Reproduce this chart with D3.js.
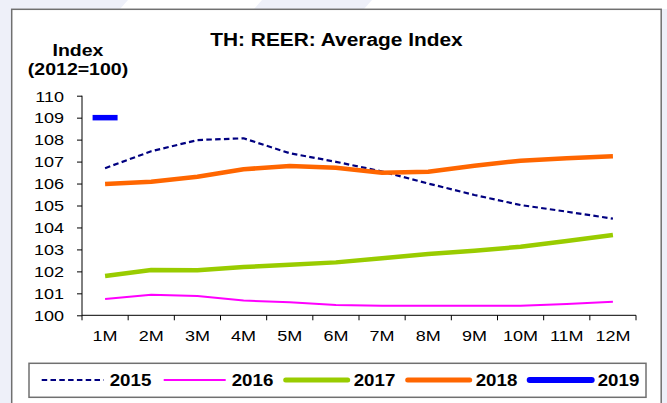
<!DOCTYPE html>
<html>
<head>
<meta charset="utf-8">
<script src="https://cdn.jsdelivr.net/npm/d3@7"></script>
<style>
  html, body { margin: 0; padding: 0; background: #eef0f9; }
  svg { display: block; font-family: "Liberation Sans", Arial, sans-serif; }
</style>
</head>
<body>
<svg id="chart" width="667" height="403"></svg>
<script>
// chart data
const months = ["1M", "2M", "3M", "4M", "5M", "6M", "7M", "8M", "9M", "10M", "11M", "12M"];
const yTicks = [100, 101, 102, 103, 104, 105, 106, 107, 108, 109, 110];
const years = ["2015", "2016", "2017", "2018", "2019"];
const reer2015 = [106.70, 107.47, 107.98, 108.06, 107.38, 106.99, 106.55, 106.00, 105.48, 105.02, 104.72, 104.40];
const reer2016 = [100.74, 100.94, 100.88, 100.67, 100.59, 100.47, 100.44, 100.44, 100.44, 100.44, 100.51, 100.62];
const reer2017 = [101.79, 102.06, 102.05, 102.20, 102.30, 102.41, 102.60, 102.79, 102.94, 103.12, 103.38, 103.66];
const reer2018 = [105.98, 106.08, 106.31, 106.65, 106.80, 106.72, 106.49, 106.54, 106.81, 107.04, 107.15, 107.24];
const reer2019 = [109.00];

const seriesValues = [reer2015, reer2016, reer2017, reer2018, reer2019];
const styles = [
    {color: "#000080", width: 2.2, dash: "5.5,3.3"},
    {color: "#ff00ff", width: 2, dash: null},
    {color: "#99cc00", width: 4.5, dash: null},
    {color: "#ff6600", width: 4.5, dash: null},
    {color: "#0000ff", width: 5.5, dash: null}
];

const svg = d3.select("#chart");

// text helper, glyphs in the picture are stretched horizontally
function label(g, x, y, txt, size, weight, anchor, stretch) {
    return g.append("text")
        .attr("transform", `translate(${x},${y}) scale(${stretch},1)`)
        .attr("text-anchor", anchor)
        .style("font-size", size + "px")
        .style("font-weight", weight)
        .attr("fill", "#000")
        .text(txt);
}

// decorative background above the frame
svg.append("polygon").attr("points", "128,0 262,0 254,9 120,9").attr("fill", "#ffffff");
svg.append("polygon").attr("points", "372,0 667,0 667,9 364,9").attr("fill", "#ffffff");

// frame
svg.append("rect")
    .attr("x", 11.7).attr("y", 9.3)
    .attr("width", 649.5).attr("height", 420)
    .attr("fill", "#ffffff")
    .attr("stroke", "#707070")
    .attr("stroke-width", 1.5);

const x = d3.scaleBand().domain(months).range([82, 636]);
const y = d3.scaleLinear().domain([100, 110]).range([315.3, 95.7]);

// title and y label
label(svg, 336.5, 46, "TH: REER: Average Index", 18, "bold", "middle", 1.16);
label(svg, 78, 56, "Index", 16, "bold", "middle", 1.22);
label(svg, 78, 75, "(2012=100)", 16, "bold", "middle", 1.22);

// y axis
const yAxis = svg.append("g")
    .attr("transform", "translate(82,0)")
    .call(d3.axisLeft(y).tickValues(yTicks).tickSize(5).tickPadding(0));
yAxis.select(".domain").attr("stroke", "#000").attr("d", `M0,${y(100)}V${y(110)}`);
yAxis.selectAll(".tick line").attr("stroke", "#000");
yAxis.selectAll(".tick text")
    .attr("x", null).attr("dy", null)
    .attr("transform", "translate(-18,5.3) scale(1.2,1)")
    .attr("fill", "#000")
    .style("font-size", "15px")
    .style("font-family", "'Liberation Sans', Arial, sans-serif");

// x axis line + ticks at category boundaries
const xg = svg.append("g");
xg.append("line")
    .attr("x1", x.range()[0]).attr("x2", x.range()[1])
    .attr("y1", y(100)).attr("y2", y(100))
    .attr("stroke", "#000");
const bounds = months.map(m => x(m)).concat([x.range()[1]]);
xg.selectAll("line.tk").data(bounds).join("line")
    .attr("class", "tk")
    .attr("x1", d => d).attr("x2", d => d)
    .attr("y1", y(100)).attr("y2", y(100) + 5)
    .attr("stroke", "#000");
months.forEach(m => {
    label(xg, x(m) + x.bandwidth() / 2, 341, m, 15, "normal", "middle", 1.2);
});

// series lines
const line = d3.line()
    .x((d, i) => x(months[i]) + x.bandwidth() / 2)
    .y(d => y(d));

seriesValues.forEach((vals, k) => {
    const st = styles[k];
    if (vals.length > 1) {
        svg.append("path")
            .datum(vals)
            .attr("fill", "none")
            .attr("stroke", st.color)
            .attr("stroke-width", st.width)
            .attr("stroke-dasharray", st.dash)
            .attr("stroke-linejoin", "round")
            .attr("d", line);
    } else {
        // single point series: short flat dash
        const cx = x(months[0]) + x.bandwidth() / 2;
        svg.append("line")
            .attr("x1", cx - 12.5).attr("x2", cx + 12.5)
            .attr("y1", y(vals[0])).attr("y2", y(vals[0]))
            .attr("stroke", st.color)
            .attr("stroke-width", st.width);
    }
});

// legend
const lg = svg.append("g");
lg.append("rect")
    .attr("x", 29).attr("y", 363.3)
    .attr("width", 617).attr("height", 34)
    .attr("fill", "#fff")
    .attr("stroke", "#707070")
    .attr("stroke-width", 1.5);
years.forEach((yr, k) => {
    const st = styles[k];
    const x0 = 41.7 + k * 122;
    lg.append("line")
        .attr("x1", x0).attr("x2", x0 + 62)
        .attr("y1", 380).attr("y2", 380)
        .attr("stroke", st.color)
        .attr("stroke-width", k >= 2 ? st.width + 0.5 : st.width)
        .attr("stroke-dasharray", st.dash)
        .attr("stroke-linecap", k >= 2 ? "round" : "butt");
    label(lg, x0 + 68, 386, yr, 16, "bold", "start", 1.17);
});
</script>
</body>
</html>
